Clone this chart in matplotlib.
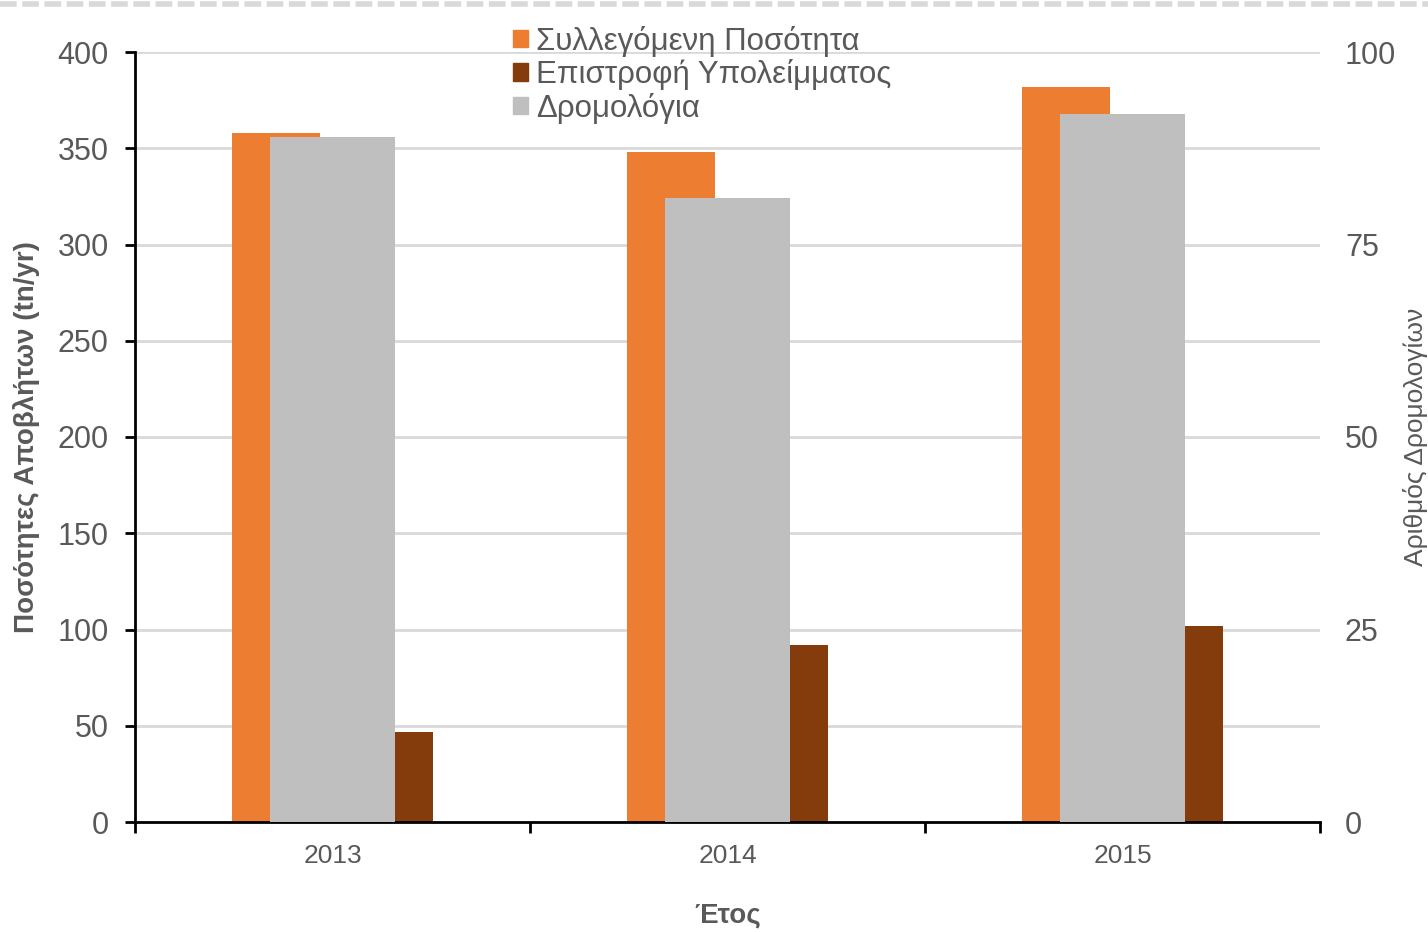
import numpy as np
import matplotlib
matplotlib.use("Agg")
import matplotlib.pyplot as plt
from matplotlib.patches import Patch
from matplotlib.lines import Line2D

plt.rcParams['font.family'] = ['Liberation Sans', 'DejaVu Sans']

years = ['2013', '2014', '2015']
collected = [358, 348, 382]      # tn/yr
residue = [47, 92, 102]          # tn/yr
routes = [89, 81, 92]            # number of routes (right axis)

labels = ['Συλλεγόμενη Ποσότητα', 'Επιστροφή Υπολείμματος', 'Δρομολόγια']
c_orange = '#ed7d31'
c_brown = '#843c0c'
c_grey = '#bfbfbf'
txt = '#595959'

fig = plt.figure(figsize=(14.28, 9.32), dpi=100)
ax = fig.add_axes([135 / 1428, 1 - 822 / 932, (1320 - 135) / 1428, (822 - 52) / 932])
ax2 = ax.twinx()

x = np.arange(len(years))
w = 0.223
off = 0.142
ax.bar(x - off, collected, width=w, color=c_orange, zorder=2)
ax.bar(x + off, residue, width=w, color=c_brown, zorder=2)
ax2.bar(x, routes, width=0.314, color=c_grey, zorder=2)

ax.set_xlim(-0.5, 2.5)
ax.set_ylim(0, 400)
ax2.set_ylim(0, 100)
ax.set_yticks(np.arange(0, 401, 50))
ax2.set_yticks(np.arange(0, 101, 25))

ax.set_axisbelow(True)
ax.grid(axis='y', color='#d9d9d9', linewidth=2)
ax.set_xticks(x)
ax.set_xticklabels(years)
ax.set_xticks(np.arange(-0.5, 2.6, 1), minor=True)

for s in ['top', 'right']:
    ax.spines[s].set_visible(False)
for s in ['top', 'right', 'left', 'bottom']:
    ax2.spines[s].set_visible(False)
ax.spines['left'].set_color('black')
ax.spines['left'].set_linewidth(2)
ax.spines['bottom'].set_color('black')
ax.spines['bottom'].set_linewidth(2)

ax.tick_params(axis='y', labelsize=22, labelcolor=txt, color='black', width=2, length=7, pad=12)
ax.tick_params(axis='x', which='major', length=0, labelsize=19, labelcolor=txt, pad=16)
ax.tick_params(axis='x', which='minor', length=8, width=2, color='black')
ax2.tick_params(axis='y', length=0, labelsize=22, labelcolor=txt, pad=18)

ax.set_ylabel('Ποσότητες Αποβλήτων (tn/yr)', fontsize=20, fontweight='bold', color=txt)
ax.yaxis.set_label_coords(-95 / 1185, 0.5)
ax.set_xlabel('Έτος', fontsize=20, fontweight='bold', color=txt, va='center')
ax.xaxis.set_label_coords(0.5, -(915 - 822) / 770)
ax2.set_ylabel('Αριθμός Δρομολογίων', fontsize=19, color=txt,
               rotation=90, va='center', ha='center')
ax2.yaxis.set_label_coords((1415 - 135) / 1185, (822 - 437) / 770)

handles = [Patch(color=c_orange), Patch(color=c_brown), Patch(color=c_grey)]
leg = fig.legend(handles, labels, loc='upper left', bbox_to_anchor=(497 / 1428, 1 - 10 / 932),
                 frameon=False, fontsize=22.5, handlelength=0.5, handleheight=0.5,
                 handletextpad=0.25, labelspacing=0.08, borderpad=0)
for t in leg.get_texts():
    t.set_color(txt)

# dashed strip along the top edge
fig.add_artist(Line2D([0, 1], [0.996, 0.996], transform=fig.transFigure,
                      color='#d9d9d9', linewidth=4, linestyle=(0, (3, 1))))

fig.savefig('out.png', dpi=100)
